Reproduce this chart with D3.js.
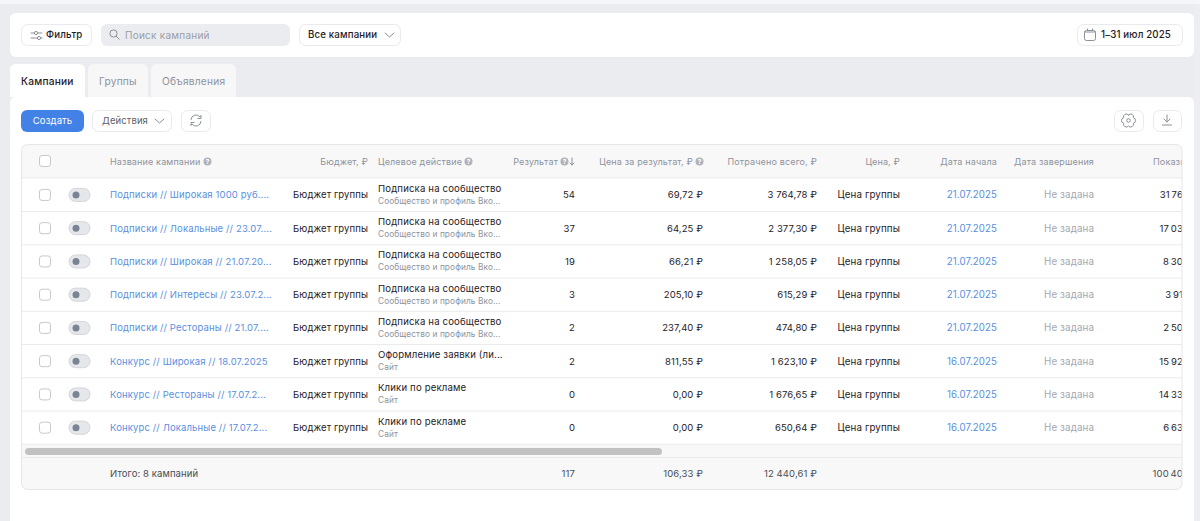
<!DOCTYPE html>
<html>
<head>
<meta charset="utf-8">
<script src="https://d3js.org/d3.v7.min.js"></script>
<style>
  html, body { margin: 0; padding: 0; background: #fff; overflow: hidden; }
  svg { display: block; }
  text { font-family: Inter, "Noto Sans", sans-serif; font-size: 9.5px; letter-spacing: 0.1px; }
  text.plain { font-size: 9.5px; letter-spacing: 0.13px; }
  text.head { font-size: 9px; letter-spacing: 0.15px; }
  text.sub { font-size: 8.3px; letter-spacing: 0.1px; }
  text.tool { font-size: 9.7px; letter-spacing: 0.15px; font-weight: 500; }
  text.tab { font-size: 10.2px; letter-spacing: 0.2px; }
</style>
</head>
<body>
<div id="chart"></div>
<script>
const campaigns = [
  "Подписки // Широкая 1000 руб....",
  "Подписки // Локальные // 23.07....",
  "Подписки // Широкая // 21.07.20...",
  "Подписки // Интересы // 23.07.2...",
  "Подписки // Рестораны // 21.07....",
  "Конкурс // Широкая // 18.07.2025",
  "Конкурс // Рестораны // 17.07.2...",
  "Конкурс // Локальные // 17.07.2..."
];
const actions = [
  "Подписка на сообщество", "Подписка на сообщество", "Подписка на сообщество",
  "Подписка на сообщество", "Подписка на сообщество", "Оформление заявки (ли...",
  "Клики по рекламе", "Клики по рекламе"
];
const actionPlaces = [
  "Сообщество и профиль Вко...", "Сообщество и профиль Вко...", "Сообщество и профиль Вко...",
  "Сообщество и профиль Вко...", "Сообщество и профиль Вко...", "Сайт", "Сайт", "Сайт"
];
const results = [54, 37, 19, 3, 2, 2, 0, 0];
const costPerResult = [69.72, 64.25, 66.21, 205.10, 237.40, 811.55, 0, 0];
const spent = [3764.78, 2377.30, 1258.05, 615.29, 474.80, 1623.10, 1676.65, 650.64];
const startDates = ["21.07.2025", "21.07.2025", "21.07.2025", "21.07.2025", "21.07.2025", "16.07.2025", "16.07.2025", "16.07.2025"];
// last digit of the impressions is cut off by the table edge in the picture
const impressions = [31760, 17030, 8300, 3910, 2500, 15920, 14330, 6630];
const totals = { label: "Итого: 8 кампаний", results: 117, cost: 106.33, spent: 12440.61, impressions: 100400 };

const width = 1200, height = 521;
const ink = "#1f2126", grey = "#8e939c", light = "#a4a8b0", blue = "#5a8fe0", line = "#eaebee", foot = "#4a4d53";

const ru = d3.formatLocale({ decimal: ",", thousands: "\u00a0", grouping: [3], currency: ["", " ₽"] });
const money = ru.format("$,.2f");
const count = d3.formatLocale({ decimal: ",", thousands: "\u2009", grouping: [3], currency: ["", ""] }).format(",d");

const svg = d3.select("#chart").append("svg").attr("width", width).attr("height", height);

function box(x, y, w, h, fill, stroke, r, parent) {
  return (parent || svg).append("rect")
    .attr("x", x).attr("y", y).attr("width", w).attr("height", h)
    .attr("rx", r === undefined ? 6 : r)
    .attr("fill", fill).attr("stroke", stroke || "none");
}
function label(x, y, str, color, anchor, parent) {
  return (parent || svg).append("text")
    .attr("x", x).attr("y", y).attr("dy", "0.35em")
    .attr("text-anchor", anchor || "start")
    .attr("fill", color || ink)
    .text(str);
}
function icon(d, x, y, parent, color) {
  return (parent || svg).append("path")
    .attr("transform", `translate(${x},${y})`)
    .attr("d", d).attr("fill", "none")
    .attr("stroke", color || "#8b9099").attr("stroke-width", 1).attr("stroke-linecap", "round");
}
function helpDot(x, y, parent) {
  const g = (parent || svg).append("g");
  g.append("circle").attr("cx", x).attr("cy", y).attr("r", 4).attr("fill", "#b0b3ba");
  g.append("text").attr("x", x).attr("y", y).attr("dy", "0.33em").attr("text-anchor", "middle")
    .attr("fill", "#fff").style("font-size", "6.5px").style("font-weight", 700).text("?");
}
const chevron = "M0 0 L4.5 4 L9 0";
const gear = "M0 -5.5 A2.8 2.8 0 0 1 4.8 -2.75 A2.8 2.8 0 0 1 4.8 2.75 A2.8 2.8 0 0 1 0 5.5 A2.8 2.8 0 0 1 -4.8 2.75 A2.8 2.8 0 0 1 -4.8 -2.75 A2.8 2.8 0 0 1 0 -5.5 Z";

// page background and cards
svg.append("rect").attr("width", width).attr("height", height).attr("fill", "#ebecf0");
svg.append("rect").attr("width", width).attr("height", 4).attr("fill", "#f5f6f8");
svg.append("rect").attr("x", 1194).attr("y", 4).attr("width", 6).attr("height", height).attr("fill", "#eceef1");
box(10, 13, 1184, 44, "#fff", null, 6);
svg.append("path").attr("d", "M10 103 Q10 97 16 97 L1188 97 Q1194 97 1194 103 L1194 521 L10 521 Z").attr("fill", "#fff");

// top toolbar
box(21.5, 24.5, 70, 21, "#fff", "#e9eaed");
icon("M0 2 H3 M7 2 H11 M0 7 H6 M9.5 7 H11", 31, 31);
svg.append("circle").attr("cx", 36).attr("cy", 33).attr("r", 1.6).attr("fill", "#fff").attr("stroke", "#8b9099");
svg.append("circle").attr("cx", 39).attr("cy", 38).attr("r", 1.6).attr("fill", "#fff").attr("stroke", "#8b9099");
label(46, 35, "Фильтр").attr("class", "tool");
box(101, 24, 189, 22, "#ebecf0", null);
svg.append("circle").attr("cx", 113.5).attr("cy", 33.5).attr("r", 3.6).attr("fill", "none").attr("stroke", "#8b9099");
icon("M0 0 L3 3", 116.2, 36.2);
label(125, 35, "Поиск кампаний", "#9a9ea6").style("font-size", "10px").style("letter-spacing", "0.25px");
box(299.5, 24.5, 101, 21, "#fff", "#e9eaed");
label(308, 35, "Все кампании").attr("class", "tool");
icon(chevron, 385, 33);
box(1077.5, 24.5, 105, 21, "#fff", "#e9eaed");
box(1084.5, 30.5, 11, 10, "none", "#8b9099", 2);
icon("M0 3 H11 M3 0 V1 M8 0 V1", 1084.5, 29);
label(1101, 35, "1–31 июл 2025").attr("class", "tool");

// tabs
svg.append("path").attr("d", "M10 97 V70 Q10 64 16 64 L79 64 Q85 64 85 70 V97 Z").attr("fill", "#fff");
svg.append("path").attr("d", "M88 97 V70 Q88 64 94 64 L142 64 Q148 64 148 70 V97 Z").attr("fill", "#f7f7f8");
svg.append("path").attr("d", "M151 97 V70 Q151 64 157 64 L230 64 Q236 64 236 70 V97 Z").attr("fill", "#f7f7f8");
label(21, 81.5, "Кампании").attr("class", "tab").style("font-weight", 500);
label(99, 81.5, "Группы", grey).attr("class", "tab");
label(162, 81.5, "Объявления", grey).attr("class", "tab");

// actions row
box(21, 110, 63, 22, "#4281e6", null);
label(52.5, 121, "Создать", "#fff", "middle").style("font-size", "9.6px");
box(92.5, 110.5, 79, 21, "#fff", "#e9eaed");
label(102, 121, "Действия", "#5d6168");
icon(chevron, 155, 119);
box(181.5, 110.5, 29, 21, "#fff", "#e9eaed");
icon("M-5 -1 A5 5 0 0 1 4 -3.5 L5 -5 L5 -2 L2 -2 M5 1 A5 5 0 0 1 -4 3.5 L-5 5 L-5 2 L-2 2", 196, 120.5);
box(1114.5, 110.5, 29, 21, "#fff", "#e9eaed");
icon(gear, 1128.5, 120.5);
svg.append("circle").attr("cx", 1128.5).attr("cy", 120.5).attr("r", 1.8).attr("fill", "none").attr("stroke", "#8b9099");
box(1153.5, 110.5, 28, 21, "#fff", "#e9eaed");
icon("M0 -5 V2 M-3 -1 L0 2 L3 -1 M-4.5 5 H4.5", 1167, 120);

// table frame
const tableLeft = 21.5, tableRight = 1182;
const rowY = d3.scaleBand().domain(d3.range(campaigns.length)).range([178, 444]);
const clip = svg.append("defs").append("clipPath").attr("id", "table-clip");
clip.append("rect").attr("x", tableLeft).attr("y", 144.5).attr("width", tableRight - tableLeft).attr("height", 345).attr("rx", 6);
const table = svg.append("g").attr("clip-path", "url(#table-clip)");

table.append("rect").attr("x", tableLeft).attr("y", 145).attr("width", 1161).attr("height", 33).attr("fill", "#f8f8f9");
table.append("rect").attr("x", tableLeft).attr("y", 444).attr("width", 1161).attr("height", 46).attr("fill", "#f8f8f8");
table.append("rect").attr("x", 25).attr("y", 448).attr("width", 637).attr("height", 7).attr("rx", 3.5).attr("fill", "#c2c2c2");
[178, 457.5].forEach(y => table.append("line").attr("x1", tableLeft).attr("x2", tableRight).attr("y1", y).attr("y2", y).attr("stroke", line));

// header
const hY = 161.5;
function headLabel(x, str, anchor) {
  return label(x, hY, str, grey, anchor, table).attr("class", "head");
}
box(39.5, 155.5, 11, 11, "#fff", "#c6c9cf", 2.5, table);
headLabel(110, "Название кампании", "start");
helpDot(207.5, hY, table);
headLabel(368, "Бюджет, ₽", "end");
headLabel(378, "Целевое действие", "start");
helpDot(468.5, hY, table);
headLabel(558, "Результат", "end");
helpDot(564.5, hY, table);
icon("M0 -3.5 V3.5 M-2 1.5 L0 3.5 L2 1.5", 572, hY, table);
headLabel(693, "Цена за результат, ₽", "end");
helpDot(699.5, hY, table);
headLabel(817, "Потрачено всего, ₽", "end");
headLabel(900, "Цена, ₽", "end");
headLabel(997, "Дата начала", "end");
headLabel(1094, "Дата завершения", "end");
headLabel(1153, "Показы", "start");

// rows
const rows = table.selectAll("g.row").data(campaigns).enter().append("g")
  .attr("class", "row")
  .attr("transform", (d, i) => `translate(0,${rowY(i) + rowY.bandwidth() / 2 + 0.3})`);

rows.append("line").attr("x1", tableLeft).attr("x2", tableRight)
  .attr("y1", rowY.bandwidth() / 2).attr("y2", rowY.bandwidth() / 2).attr("stroke", line);
rows.append("rect").attr("x", 39.5).attr("y", -5.5).attr("width", 11).attr("height", 11).attr("rx", 2.5)
  .attr("fill", "#fff").attr("stroke", "#c6c9cf");
rows.append("rect").attr("x", 69).attr("y", -6.5).attr("width", 21).attr("height", 13).attr("rx", 6.5)
  .attr("fill", "#e6e7ea").attr("stroke", "#d3d5da");
rows.append("circle").attr("cx", 76).attr("cy", 0).attr("r", 3.5).attr("fill", "#7b8494");

function cell(x, anchor, color, text, dy) {
  return rows.append("text")
    .attr("x", x).attr("y", dy || 0).attr("dy", "0.35em")
    .attr("text-anchor", anchor).attr("fill", color)
    .text(text);
}
cell(110, "start", blue, d => d).attr("class", "plain");
cell(368, "end", ink, () => "Бюджет группы");
cell(378, "start", ink, (d, i) => actions[i], -6.5).style("font-size", "9.6px").style("letter-spacing", "0.15px");
cell(378, "start", grey, (d, i) => actionPlaces[i], 6).attr("class", "sub");
cell(575, "end", ink, (d, i) => results[i]);
cell(703, "end", ink, (d, i) => money(costPerResult[i]));
cell(817, "end", ink, (d, i) => money(spent[i]));
cell(900, "end", ink, () => "Цена группы").style("font-size", "9.8px");
cell(997, "end", blue, (d, i) => startDates[i]).style("font-size", "9.7px");
cell(1094, "end", light, () => "Не задана").style("font-size", "9.8px");
cell(1189, "end", ink, (d, i) => count(impressions[i]));

// totals
const fY = 473.5;
label(110, fY, totals.label, foot, "start", table);
label(575, fY, totals.results, foot, "end", table);
label(703, fY, money(totals.cost), foot, "end", table);
label(817, fY, money(totals.spent), foot, "end", table);
label(1189, fY, count(totals.impressions), foot, "end", table);

// outline on top of the clipped contents
box(tableLeft, 144.5, tableRight - tableLeft, 345, "none", "#e5e6e9", 6);
</script>
</body>
</html>
